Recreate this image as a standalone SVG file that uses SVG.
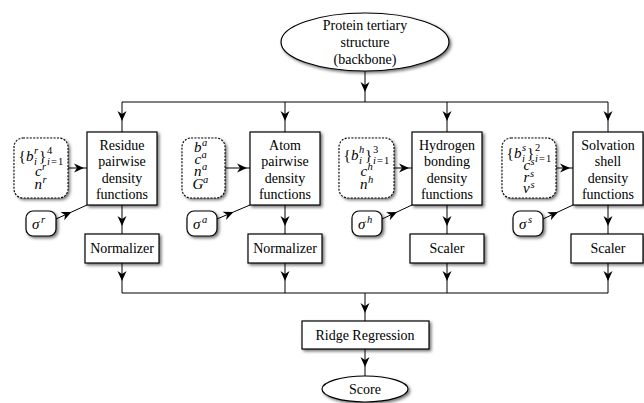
<svg xmlns="http://www.w3.org/2000/svg" width="644" height="403" viewBox="0 0 644 403">
<style>
text{font-family:"Liberation Serif","Times New Roman",serif;font-size:14px;fill:#000}
.c{text-anchor:middle}
.m{font-style:italic;font-size:15px}
.s{font-size:10.5px}
.u{font-style:normal}
.box{fill:#fff;stroke:#000;stroke-width:1.2;filter:url(#sh)}
.dash{fill:#fff;stroke:#000;stroke-width:1.1;stroke-dasharray:2 1.4;filter:url(#sh)}
.ln{fill:none;stroke:#000;stroke-width:1}
.ar{fill:none;stroke:#000;stroke-width:1;marker-mid:url(#ah)}
</style>
<defs>
<filter id="sh" x="-20%" y="-20%" width="150%" height="160%"><feDropShadow dx="1.8" dy="1.8" stdDeviation="1.4" flood-color="#000" flood-opacity="0.55"/></filter>
<marker id="ah" viewBox="-11 -6 12 12" refX="0" refY="0" markerWidth="12" markerHeight="12" orient="auto" markerUnits="userSpaceOnUse"><path d="M0,0 L-10,-4.5 L-7,0 L-10,4.5 Z" fill="#000"/></marker>
</defs>

<g id="connectors">
<path class="ar" d="M365,71 L365,92 L365,102"/>
<path class="ln" d="M122,102 H608"/>
<path class="ar" d="M122,102 L122,121 L122,132"/>
<path class="ar" d="M285,102 L285,121 L285,132"/>
<path class="ar" d="M447,102 L447,121 L447,132"/>
<path class="ar" d="M608,102 L608,121 L608,132"/>
<path class="ar" d="M68,168 L84,168 L87,168"/>
<path class="ar" d="M225,168 L247,168 L250,168"/>
<path class="ar" d="M394,168 L409,168 L412,168"/>
<path class="ar" d="M556,168 L570,168 L573,168"/>
<path class="ar" d="M56,219 L71.5,212 L87,205"/>
<path class="ar" d="M217,219 L233.5,212 L250,205"/>
<path class="ar" d="M382,219 L397,212 L412,205"/>
<path class="ar" d="M543,219 L558,212 L573,205"/>
<path class="ar" d="M122,205 L122,226 L122,234"/>
<path class="ar" d="M285,205 L285,226 L285,234"/>
<path class="ar" d="M447,205 L447,226 L447,234"/>
<path class="ar" d="M608,205 L608,226 L608,234"/>
<path class="ar" d="M122,263 L122,281 L122,293"/>
<path class="ar" d="M285,263 L285,281 L285,293"/>
<path class="ar" d="M447,263 L447,281 L447,293"/>
<path class="ar" d="M608,263 L608,281 L608,293"/>
<path class="ln" d="M122,293 H608"/>
<path class="ar" d="M365,293 L365,313 L365,321"/>
<path class="ar" d="M365,349 L365,367 L365,376"/>
</g>

<g id="input">
<ellipse class="box" cx="365" cy="42" rx="84" ry="29"/>
<text class="c" x="365" y="30">Protein tertiary</text>
<text class="c" x="365" y="47">structure</text>
<text class="c" x="365" y="64">(backbone)</text>
</g>

<g id="residue">
<rect class="box" x="87" y="132" width="70" height="73"/>
<text class="c" x="122" y="149.5">Residue</text>
<text class="c" x="122" y="166">pairwise</text>
<text class="c" x="122" y="182.5">density</text>
<text class="c" x="122" y="199">functions</text>
</g>
<g id="atom">
<rect class="box" x="250" y="132" width="70" height="73"/>
<text class="c" x="285" y="149.5">Atom</text>
<text class="c" x="285" y="166">pairwise</text>
<text class="c" x="285" y="182.5">density</text>
<text class="c" x="285" y="199">functions</text>
</g>
<g id="hydrogen">
<rect class="box" x="412" y="132" width="70" height="73"/>
<text class="c" x="447" y="149.5">Hydrogen</text>
<text class="c" x="447" y="166">bonding</text>
<text class="c" x="447" y="182.5">density</text>
<text class="c" x="447" y="199">functions</text>
</g>
<g id="solvation">
<rect class="box" x="573" y="132" width="70" height="73"/>
<text class="c" x="608" y="149.5">Solvation</text>
<text class="c" x="608" y="166">shell</text>
<text class="c" x="608" y="182.5">density</text>
<text class="c" x="608" y="199">functions</text>
</g>

<g id="params-r">
<rect class="dash" x="14" y="138" width="54" height="60" rx="9"/>
<text class="m" y="161"><tspan class="u" x="18.5">{</tspan><tspan x="26">b</tspan><tspan class="s" x="34" y="154">r</tspan><tspan class="s" x="34" y="165">i</tspan><tspan class="u" x="39" y="161">}</tspan><tspan class="s u" x="47" y="154">4</tspan><tspan class="s" x="47" y="165">i</tspan><tspan class="s u" x="51">=</tspan><tspan class="s u" x="58">1</tspan></text>
<text class="m" y="176"><tspan x="35">c</tspan><tspan class="s" x="42" y="170">r</tspan></text>
<text class="m" y="188.5"><tspan x="34.5">n</tspan><tspan class="s" x="42.5" y="182.5">r</tspan></text>
</g>
<g id="params-a">
<rect class="dash" x="182" y="138" width="43" height="60" rx="9"/>
<text class="m" y="152"><tspan x="194">b</tspan><tspan class="s" x="202" y="146">a</tspan></text>
<text class="m" y="164"><tspan x="194.5">c</tspan><tspan class="s" x="201.5" y="158">a</tspan></text>
<text class="m" y="176"><tspan x="194">n</tspan><tspan class="s" x="202" y="170">a</tspan></text>
<text class="m" y="188.5"><tspan x="192.5">G</tspan><tspan class="s" x="203" y="182.5">a</tspan></text>
</g>
<g id="params-h">
<rect class="dash" x="339" y="138" width="55" height="60" rx="9"/>
<text class="m" y="160"><tspan class="u" x="343.5">{</tspan><tspan x="351">b</tspan><tspan class="s" x="359" y="153">h</tspan><tspan class="s" x="359" y="164">i</tspan><tspan class="u" x="365" y="160">}</tspan><tspan class="s u" x="373" y="153">3</tspan><tspan class="s" x="373" y="164">i</tspan><tspan class="s u" x="377">=</tspan><tspan class="s u" x="384">1</tspan></text>
<text class="m" y="176"><tspan x="360.5">c</tspan><tspan class="s" x="367.5" y="170">h</tspan></text>
<text class="m" y="188.5"><tspan x="360">n</tspan><tspan class="s" x="368" y="182.5">h</tspan></text>
</g>
<g id="params-s">
<rect class="dash" x="502" y="138" width="54" height="60" rx="9"/>
<text class="m" y="158"><tspan class="u" x="506.5">{</tspan><tspan x="514">b</tspan><tspan class="s" x="522" y="151">s</tspan><tspan class="s" x="522" y="162">i</tspan><tspan class="u" x="527" y="158">}</tspan><tspan class="s u" x="535" y="151">2</tspan><tspan class="s" x="535" y="162">i</tspan><tspan class="s u" x="539">=</tspan><tspan class="s u" x="546">1</tspan></text>
<text class="m" y="170"><tspan x="523.5">c</tspan><tspan class="s" x="530.5" y="165">s</tspan></text>
<text class="m" y="181.5"><tspan x="523.5">r</tspan><tspan class="s" x="530" y="176.5">s</tspan></text>
<text class="m" y="193"><tspan x="523">v</tspan><tspan class="s" x="530.5" y="188">s</tspan></text>
</g>

<g id="sigma-r">
<rect class="box" x="26" y="211" width="30" height="25" rx="7"/>
<text class="m" y="228.5"><tspan x="32">σ</tspan><tspan class="s" x="41" y="222.5">r</tspan></text>
</g>
<g id="sigma-a">
<rect class="box" x="187" y="211" width="30" height="25" rx="7"/>
<text class="m" y="228.5"><tspan x="193">σ</tspan><tspan class="s" x="202" y="222.5">a</tspan></text>
</g>
<g id="sigma-h">
<rect class="box" x="352" y="211" width="30" height="25" rx="7"/>
<text class="m" y="228.5"><tspan x="358">σ</tspan><tspan class="s" x="367" y="222.5">h</tspan></text>
</g>
<g id="sigma-s">
<rect class="box" x="513" y="211" width="30" height="25" rx="7"/>
<text class="m" y="228.5"><tspan x="519">σ</tspan><tspan class="s" x="528" y="222.5">s</tspan></text>
</g>

<g id="norm-r">
<rect class="box" x="85" y="234" width="74" height="29"/>
<text class="c" x="122" y="253">Normalizer</text>
</g>
<g id="norm-a">
<rect class="box" x="248" y="234" width="74" height="29"/>
<text class="c" x="285" y="253">Normalizer</text>
</g>
<g id="scaler-h">
<rect class="box" x="410" y="234" width="74" height="29"/>
<text class="c" x="447" y="253">Scaler</text>
</g>
<g id="scaler-s">
<rect class="box" x="571" y="234" width="72" height="29"/>
<text class="c" x="608" y="253">Scaler</text>
</g>

<g id="ridge">
<rect class="box" x="302" y="321" width="127" height="28"/>
<text class="c" x="365" y="340">Ridge Regression</text>
</g>
<g id="score">
<ellipse class="box" cx="365" cy="389" rx="43" ry="13"/>
<text class="c" x="365" y="394">Score</text>
</g>
</svg>
